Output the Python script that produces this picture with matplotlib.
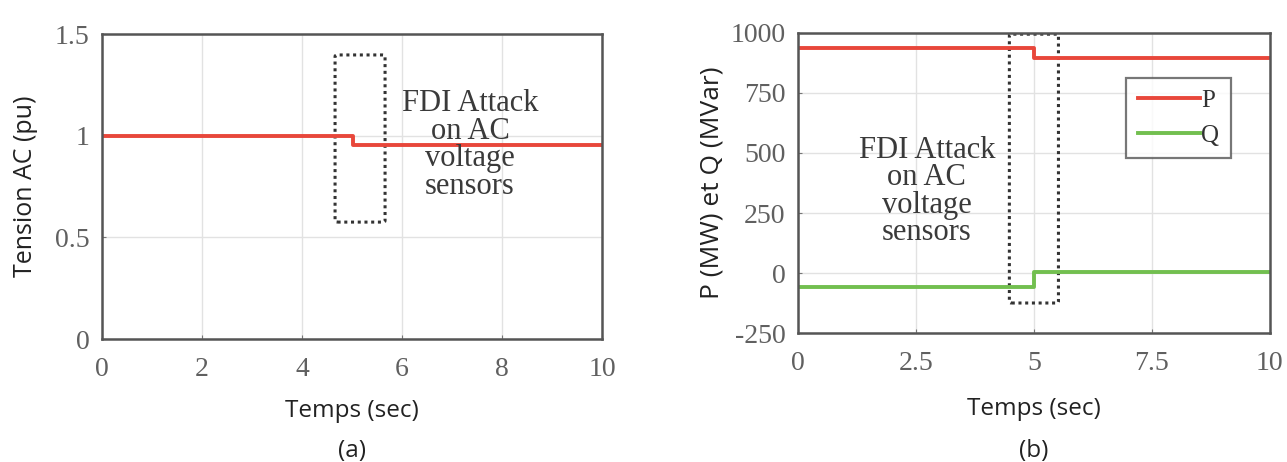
import matplotlib
matplotlib.use("Agg")
import matplotlib.pyplot as plt
from matplotlib.patches import FancyBboxPatch

plt.rcParams["axes.unicode_minus"] = False

# Data
t_a = [0, 5.02, 5.02, 10]
v_a = [1.0, 1.0, 0.955, 0.955]
t_b = [0, 5.0, 5.0, 10]
p_b = [937, 937, 896, 896]
q_b = [-58, -58, 5, 5]
xticks_a = [0, 2, 4, 6, 8, 10]
yticks_a = [0, 0.5, 1, 1.5]
xticks_b = [0, 2.5, 5, 7.5, 10]
yticks_b = [-250, 0, 250, 500, 750, 1000]
ann_text = "FDI Attack\non AC\nvoltage\nsensors"

RED = "#e8473b"
GREEN = "#72bf4f"
TICKC = "#606060"
SERIF = ["Liberation Serif", "DejaVu Serif"]
SANS = ["Open Sans", "DejaVu Sans"]

fig = plt.figure(figsize=(12.87, 4.62), dpi=100)
ax1 = fig.add_axes([0.0793, 0.2662, 0.3885, 0.6602])
ax2 = fig.add_axes([0.620, 0.2792, 0.3667, 0.6494])

def style(ax):
    ax.grid(True, color="#e2e2e2", lw=1.0)
    ax.set_axisbelow(True)
    for s in ax.spines.values():
        s.set_color("#555555")
        s.set_linewidth(1.8)
    ax.tick_params(direction="in", length=3, color="#777777", labelcolor=TICKC,
                   labelsize=20)
    ax.tick_params(axis="x", pad=13)
    ax.tick_params(axis="y", pad=9)
    for lab in ax.get_xticklabels() + ax.get_yticklabels():
        lab.set_family(SERIF)

# Panel (a)
ax1.plot(t_a, v_a, color=RED, lw=2.8)
ax1.set_xlim(0, 10)
ax1.set_ylim(0, 1.5)
ax1.set_xticks(xticks_a)
ax1.set_yticks(yticks_a)
ax1.set_yticklabels(["0", "0.5", "1", "1.5"])
style(ax1)
ax1.add_patch(FancyBboxPatch((4.66, 0.575), 1.0, 0.822, boxstyle="round,pad=0,rounding_size=0.05",
                             fill=False, ls=(0, (1, 1.2)), lw=2.2, ec="#333333",
                             mutation_aspect=0.15))
ax1.text(7.36, 0.955, ann_text, ha="center", va="center", fontsize=22,
         family=SERIF, color="#3a3a3a", linespacing=0.93)
ax1.set_xlabel("Temps (sec)", fontsize=17.5, color="#222222", family=SANS, labelpad=12)
ax1.set_ylabel("Tension AC (pu)", fontsize=18, color="#222222", family=SANS, labelpad=12)
fig.text(0.0793 + 0.3885 / 2, 1 - 451 / 462, "(a)", ha="center", va="center", fontsize=17.5,
         family=SANS, color="#222222")

# Panel (b)
ax2.plot(t_b, p_b, color=RED, lw=2.8, label="P")
ax2.plot(t_b, q_b, color=GREEN, lw=2.8, label="Q")
ax2.set_xlim(0, 10)
ax2.set_ylim(-250, 1000)
ax2.set_xticks(xticks_b)
ax2.set_yticks(yticks_b)
ax2.set_xticklabels(["0", "2.5", "5", "7.5", "10"])
style(ax2)
ax2.add_patch(FancyBboxPatch((4.48, -125), 1.04, 1120, boxstyle="round,pad=0,rounding_size=0.05",
                             fill=False, ls=(0, (1, 1.2)), lw=2.2, ec="#333333",
                             mutation_aspect=100))
ax2.text(2.73, 340, ann_text, ha="center", va="center", fontsize=22,
         family=SERIF, color="#3a3a3a", linespacing=0.93)
leg = ax2.legend(loc="upper right", bbox_to_anchor=(0.917, 0.85), frameon=True, fancybox=False,
                 edgecolor="#555555", handlelength=2.5, handletextpad=0.05,
                 prop={"family": SERIF, "size": 18}, borderpad=0.45, labelspacing=0.5,
                 borderaxespad=0)
leg.get_frame().set_linewidth(1.6)
for txt in leg.get_texts():
    txt.set_color("#333333")
ax2.set_xlabel("Temps (sec)", fontsize=17.5, color="#222222", family=SANS, labelpad=15)
ax2.set_ylabel("P (MW) et Q (MVar)", fontsize=19, color="#222222", family=SANS, labelpad=4)
fig.text(0.620 + 0.3667 / 2, 1 - 451 / 462, "(b)", ha="center", va="center", fontsize=17.5,
         family=SANS, color="#222222")

fig.savefig("out.png", dpi=100)
